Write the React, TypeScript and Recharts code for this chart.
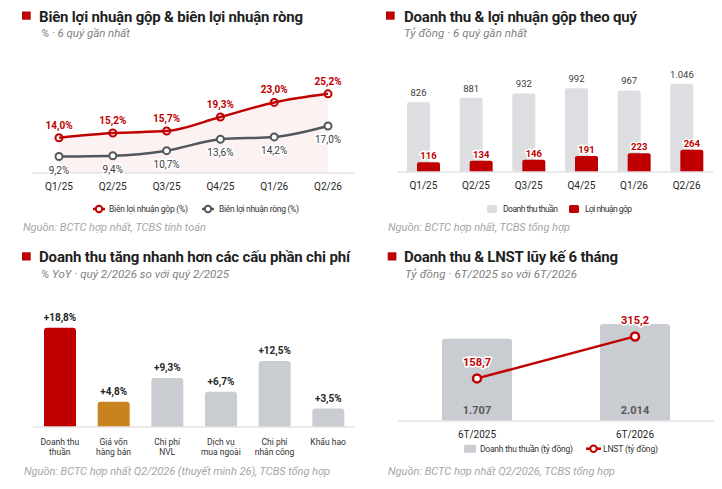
import React from "react";
import {
  ComposedChart,
  BarChart,
  Bar,
  Line,
  Area,
  XAxis,
  YAxis,
  LabelList,
  Cell,
} from "recharts";

// quarterly data
const QUARTERS = ["Q1/25", "Q2/25", "Q3/25", "Q4/25", "Q1/26", "Q2/26"];
const GROSS_MARGIN = [14.0, 15.2, 15.7, 19.3, 23.0, 25.2];
const NET_MARGIN = [9.2, 9.4, 10.7, 13.6, 14.2, 17.0];
const REVENUE = [826, 881, 932, 992, 967, 1046];
const GROSS_PROFIT = [116, 134, 146, 191, 223, 264];

// YoY growth of cost items
const COST_ITEMS = [
  "Doanh thu\nthuần",
  "Giá vốn\nhàng bán",
  "Chi phí\nNVL",
  "Dịch vụ\nmua ngoài",
  "Chi phí\nnhân công",
  "Khấu hao",
];
const COST_GROWTH = [18.8, 4.8, 9.3, 6.7, 12.5, 3.5];

// 6-month cumulative
const PERIODS = ["6T/2025", "6T/2026"];
const REVENUE_6M = [1707, 2014];
const NPAT_6M = [158.7, 315.2];

const RED = "#c00000";
const DARK = "#1f1f1f";
const NET_GRAY = "#51575d";
const FONT = "Roboto, 'Noto Sans', sans-serif";

const dec = (v: number) => v.toFixed(1).replace(".", ",");
const thousands = (v: number) =>
  String(Math.round(v)).replace(/\B(?=(\d{3})+(?!\d))/g, ".");

const marginData = QUARTERS.map((q, i) => ({
  name: q,
  gross: GROSS_MARGIN[i],
  net: NET_MARGIN[i],
}));
const quarterData = QUARTERS.map((q, i) => ({
  name: q,
  revenue: REVENUE[i],
  gp: GROSS_PROFIT[i],
}));
const costData = COST_ITEMS.map((c, i) => ({ name: c, growth: COST_GROWTH[i] }));
const cumData = PERIODS.map((p, i) => ({
  name: p,
  revenue: REVENUE_6M[i],
  npat: NPAT_6M[i],
}));
const COST_COLORS = [RED, "#c8821e", "#c9ccd0", "#c9ccd0", "#c9ccd0", "#c9ccd0"];

// text stretched to the width it has in the reference
function T({
  x,
  y,
  w,
  size,
  fill,
  bold,
  italic,
  children,
}: {
  x: number;
  y: number;
  w: number;
  size: number;
  fill: string;
  bold?: boolean;
  italic?: boolean;
  children: string;
}) {
  return (
    <text
      x={x}
      y={y}
      textLength={w}
      lengthAdjust="spacing"
      fontSize={size}
      fill={fill}
      fontWeight={bold ? 700 : 400}
      fontStyle={italic ? "italic" : "normal"}
      fontFamily={FONT}
    >
      {children}
    </text>
  );
}

type Head = {
  sq: number;
  top: number;
  title: string;
  tx: number;
  tw: number;
  sub: string;
  sx: number;
  sw: number;
};

function Header({ h }: { h: Head }) {
  return (
    <>
      <rect x={h.sq} y={h.top} width={8.7} height={8.2} fill={RED} />
      <T x={h.tx} y={h.top + 10} w={h.tw} size={15} fill={DARK} bold>
        {h.title}
      </T>
      <T x={h.sx} y={h.top + 25.8} w={h.sw} size={11.5} fill="#808080" italic>
        {h.sub}
      </T>
    </>
  );
}

function Source({ x, y, w, text }: { x: number; y: number; w: number; text: string }) {
  return (
    <T x={x} y={y} w={w} size={11} fill="#a6a6a6" italic>
      {text}
    </T>
  );
}

function LineIcon({ x, y, w, color }: { x: number; y: number; w: number; color: string }) {
  return (
    <g>
      <line x1={x} y1={y} x2={x + w} y2={y} stroke={color} strokeWidth={2.5} />
      <circle cx={x + w / 2} cy={y} r={3.2} fill="#fff" stroke={color} strokeWidth={2} />
    </g>
  );
}

function BoxIcon({ x, y, w, color }: { x: number; y: number; w: number; color: string }) {
  return <rect x={x} y={y - 4} width={w} height={8} rx={1.5} fill={color} />;
}

function LegendText({ x, y, w, children }: { x: number; y: number; w: number; children: string }) {
  return (
    <T x={x} y={y + 3.3} w={w} size={8.5} fill="#333">
      {children}
    </T>
  );
}

function Overlay({ children }: { children: React.ReactNode }) {
  return (
    <svg
      width={361}
      height={245}
      style={{ position: "absolute", left: 0, top: 0, pointerEvents: "none" }}
    >
      {children}
    </svg>
  );
}

const haloLabel =
  (color: string, dy: number, bold: boolean, size: number, fmt: (v: number) => string) =>
  (props: any) => {
    const { x, y, width, value } = props;
    const cx = width !== undefined ? x + width / 2 : x;
    return (
      <text
        x={cx}
        y={y + dy}
        textAnchor="middle"
        fill={color}
        stroke="#fff"
        strokeWidth={3}
        paintOrder="stroke"
        fontSize={size}
        fontWeight={bold ? 700 : 400}
        fontFamily={FONT}
      >
        {fmt(value)}
      </text>
    );
  };

const axisTick = { fontSize: 10, fill: "#262626", fontFamily: FONT };
const axisLine = { stroke: "#e3e3e3", strokeWidth: 1.5 };

function CostTick(props: any) {
  const { x, y, payload } = props;
  const lines = String(payload.value).split("\n");
  return (
    <text x={x} y={y} textAnchor="middle" fontSize={8.5} fill="#333" fontFamily={FONT}>
      {lines.map((l, i) => (
        <tspan key={i} x={x} dy={i === 0 ? 12 : 9.8}>
          {l}
        </tspan>
      ))}
    </text>
  );
}

function Panel({ left, top, children }: { left: number; top: number; children: React.ReactNode }) {
  return (
    <div style={{ position: "absolute", left, top, width: 361, height: 245 }}>
      {children}
    </div>
  );
}

const chartBox: React.CSSProperties = { position: "absolute", left: 0, top: 0 };

export default function App() {
  return (
    <div
      style={{
        position: "absolute",
        left: 0,
        top: 0,
        width: 722,
        height: 489,
        background: "#fff",
        fontFamily: FONT,
        overflow: "hidden",
      }}
    >
      {/* margins */}
      <Panel left={0} top={0}>
        <div style={chartBox}>
          <ComposedChart
            width={361}
            height={203}
            data={marginData}
            margin={{ top: 75, right: 6, bottom: 0, left: 32 }}
          >
            <XAxis
              dataKey="name"
              axisLine={axisLine}
              tickLine={false}
              tick={axisTick}
              height={30}
              tickMargin={4}
              interval={0}
              padding={{ left: 27, right: 27 }}
            />
            <YAxis hide domain={[5, 30]} />
            <Area
              type="monotone"
              dataKey="gross"
              stroke={RED}
              strokeWidth={2.5}
              fill={RED}
              fillOpacity={0.05}
              dot={{ r: 3.5, fill: "#fff", stroke: RED, strokeWidth: 2 }}
              isAnimationActive={false}
            >
              <LabelList dataKey="gross" content={haloLabel(RED, -9, true, 10, (v) => dec(v) + "%")} />
            </Area>
            <Line
              type="monotone"
              dataKey="net"
              stroke={NET_GRAY}
              strokeWidth={2.5}
              dot={{ r: 3.5, fill: "#fff", stroke: NET_GRAY, strokeWidth: 2 }}
              isAnimationActive={false}
            >
              <LabelList dataKey="net" content={haloLabel("#404040", 17, false, 10, (v) => dec(v) + "%")} />
            </Line>
          </ComposedChart>
        </div>
        <Overlay>
          <Header
            h={{
              sq: 22,
              top: 11.5,
              title: "Biên lợi nhuận gộp & biên lợi nhuận ròng",
              tx: 39,
              tw: 264,
              sub: "% · 6 quý gần nhất",
              sx: 41,
              sw: 89,
            }}
          />
          <LineIcon x={93} y={209} w={12} color={RED} />
          <LegendText x={109} y={209} w={79}>Biên lợi nhuận gộp (%)</LegendText>
          <LineIcon x={202} y={209} w={12} color={NET_GRAY} />
          <LegendText x={219} y={209} w={80}>Biên lợi nhuận ròng (%)</LegendText>
          <Source x={23} y={231} w={183} text="Nguồn: BCTC hợp nhất, TCBS tính toán" />
        </Overlay>
      </Panel>

      {/* quarterly revenue & gross profit */}
      <Panel left={361} top={0}>
        <div style={chartBox}>
          <BarChart
            width={361}
            height={202}
            data={quarterData}
            margin={{ top: 75, right: 9, bottom: 0, left: 36 }}
            barGap={-13}
          >
            <XAxis
              dataKey="name"
              axisLine={axisLine}
              tickLine={false}
              tick={axisTick}
              height={30}
              tickMargin={4}
              interval={0}
            />
            <YAxis hide domain={[0, 1150]} />
            <Bar dataKey="revenue" fill="#dcdee1" barSize={23} radius={[2, 2, 0, 0]} isAnimationActive={false}>
              <LabelList dataKey="revenue" content={haloLabel("#404040", -6, false, 9.5, thousands)} />
            </Bar>
            <Bar dataKey="gp" fill={RED} barSize={23} radius={[2, 2, 0, 0]} isAnimationActive={false}>
              <LabelList dataKey="gp" content={haloLabel(RED, -3, true, 9.5, thousands)} />
            </Bar>
          </BarChart>
        </div>
        <Overlay>
          <Header
            h={{
              sq: 25,
              top: 11.5,
              title: "Doanh thu & lợi nhuận gộp theo quý",
              tx: 43,
              tw: 233,
              sub: "Tỷ đồng · 6 quý gần nhất",
              sx: 43,
              sw: 123,
            }}
          />
          <BoxIcon x={126} y={209} w={10} color="#dcdee1" />
          <LegendText x={142} y={209} w={55}>Doanh thu thuần</LegendText>
          <BoxIcon x={208} y={209} w={10} color={RED} />
          <LegendText x={224} y={209} w={47}>Lợi nhuận gộp</LegendText>
          <Source x={27} y={231} w={182} text="Nguồn: BCTC hợp nhất, TCBS tổng hợp" />
        </Overlay>
      </Panel>

      {/* cost growth */}
      <Panel left={0} top={245}>
        <div style={chartBox}>
          <BarChart
            width={361}
            height={215}
            data={costData}
            margin={{ top: 66, right: 6, bottom: 0, left: 33 }}
          >
            <XAxis
              dataKey="name"
              axisLine={axisLine}
              tickLine={false}
              tick={<CostTick />}
              height={33}
              tickMargin={0}
              interval={0}
            />
            <YAxis hide domain={[0, 22]} />
            <Bar dataKey="growth" barSize={32} radius={[3, 3, 0, 0]} isAnimationActive={false}>
              {costData.map((_, i) => (
                <Cell key={i} fill={COST_COLORS[i]} />
              ))}
              <LabelList dataKey="growth" content={haloLabel("#262626", -7, true, 10, (v) => "+" + dec(v) + "%")} />
            </Bar>
          </BarChart>
        </div>
        <Overlay>
          <Header
            h={{
              sq: 22,
              top: 7.3,
              title: "Doanh thu tăng nhanh hơn các cấu phần chi phí",
              tx: 39,
              tw: 311,
              sub: "% YoY · quý 2/2026 so với quý 2/2025",
              sx: 41,
              sw: 188,
            }}
          />
          <Source
            x={24}
            y={230}
            w={306}
            text="Nguồn: BCTC hợp nhất Q2/2026 (thuyết minh 26), TCBS tổng hợp"
          />
        </Overlay>
      </Panel>

      {/* 6-month cumulative */}
      <Panel left={361} top={245}>
        <div style={chartBox}>
          <ComposedChart
            width={361}
            height={198}
            data={cumData}
            margin={{ top: 70, right: 8, bottom: 0, left: 37 }}
          >
            <XAxis
              dataKey="name"
              axisLine={axisLine}
              tickLine={false}
              tick={axisTick}
              height={22}
              tickMargin={4}
              interval={0}
            />
            <YAxis yAxisId="l" hide domain={[0, 2200]} />
            <YAxis yAxisId="r" hide orientation="right" domain={[0, 395]} />
            <Bar yAxisId="l" dataKey="revenue" fill="#c9ccd0" barSize={70} radius={[3, 3, 0, 0]} isAnimationActive={false}>
              <LabelList
                dataKey="revenue"
                content={(p: any) => (
                  <text
                    x={p.x + p.width / 2}
                    y={p.y + p.height - 7}
                    textAnchor="middle"
                    fontSize={11}
                    fontWeight={700}
                    fill="#595959"
                    fontFamily={FONT}
                  >
                    {thousands(p.value)}
                  </text>
                )}
              />
            </Bar>
            <Line
              yAxisId="r"
              dataKey="npat"
              type="linear"
              stroke={RED}
              strokeWidth={2.5}
              dot={{ r: 4, fill: "#fff", stroke: RED, strokeWidth: 2.5 }}
              isAnimationActive={false}
            >
              <LabelList dataKey="npat" content={haloLabel(RED, -12, true, 11, dec)} />
            </Line>
          </ComposedChart>
        </div>
        <Overlay>
          <Header
            h={{
              sq: 26.7,
              top: 7.3,
              title: "Doanh thu & LNST lũy kế 6 tháng",
              tx: 43,
              tw: 214,
              sub: "Tỷ đồng · 6T/2025 so với 6T/2026",
              sx: 44,
              sw: 172,
            }}
          />
          <BoxIcon x={103} y={203.7} w={12} color="#c9ccd0" />
          <LegendText x={119} y={203.7} w={93}>Doanh thu thuần (tỷ đồng)</LegendText>
          <LineIcon x={225} y={203.7} w={15} color={RED} />
          <LegendText x={242} y={203.7} w={55}>LNST (tỷ đồng)</LegendText>
          <Source x={27} y={230} w={227} text="Nguồn: BCTC hợp nhất Q2/2026, TCBS tổng hợp" />
        </Overlay>
      </Panel>
    </div>
  );
}
